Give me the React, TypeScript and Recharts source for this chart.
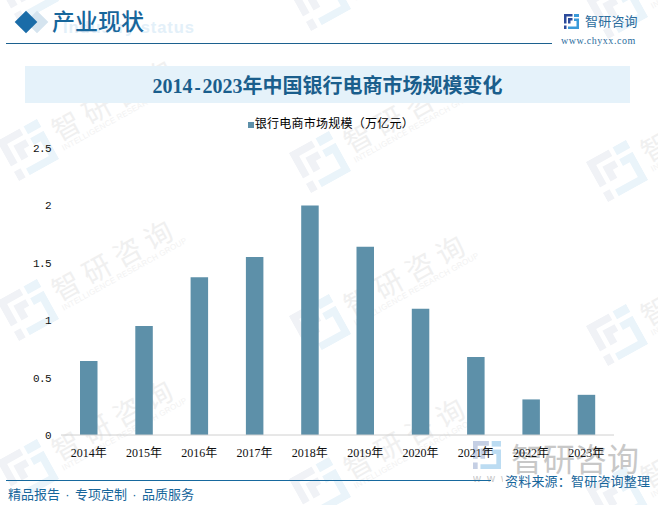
import { Bar, BarChart, Legend, XAxis, YAxis } from "recharts";

const years = ["2014年", "2015年", "2016年", "2017年", "2018年", "2019年", "2020年", "2021年", "2022年", "2023年"];
const marketSize = [0.645, 0.95, 1.375, 1.55, 2.0, 1.64, 1.1, 0.68, 0.31, 0.35];
const yTicks = [0, 0.5, 1, 1.5, 2, 2.5];

const chartData = years.map((year, i) => ({ year, value: marketSize[i] }));

const CJK = '"Liberation Sans", "Noto Sans CJK SC", sans-serif';
const SERIF = '"Liberation Serif", "Noto Sans CJK SC", serif';
const BLUE = "#17669b";

// logo centres of the background watermark tiles
const watermarks = [
  [28, -8], [320, 0], [617, 8],
  [28, 150], [320, 162], [617, 171],
  [28, 310], [320, 325], [617, 335],
  [28, 470], [320, 488], [617, 497],
];

function Logo({ size, dark = "#2b4a9b", light = "#3a9ad9" }: { size: number; dark?: string; light?: string }) {
  return (
    <svg width={size} height={size} viewBox="0 0 30 30" style={{ display: "block" }}>
      <path d="M0 0H17V5H5V19H0Z" fill={dark} />
      <path d="M8 8H17V13H13V19H8Z" fill={dark} />
      <path d="M0 23H5V30H0Z" fill={dark} />
      <path d="M20 0H30V6H20Z" fill={light} />
      <path d="M20 9H30V30H8V25H25V14H20Z" fill={light} />
    </svg>
  );
}

function Watermark({ x, y }: { x: number; y: number }) {
  return (
    <div style={{ position: "absolute", left: x, top: y, width: 0, height: 0, transform: "rotate(-29deg)", whiteSpace: "nowrap" }}>
      <div style={{ position: "absolute", left: -23, top: -23 }}>
        <Logo size={46} dark="#f0f2f6" light="#eaf4fa" />
      </div>
      <div style={{ position: "absolute", left: 31, top: -24, font: `28px "Noto Sans CJK SC"`, lineHeight: "40px", letterSpacing: 7, color: "#f0f0f0" }}>智研咨询</div>
      <div style={{ position: "absolute", left: 31, top: 10, font: `8px "Liberation Sans"`, lineHeight: "11px", letterSpacing: 0.2, color: "#f2f2f2" }}>INTELLIGENCE RESEARCH GROUP</div>
    </div>
  );
}

function Dot() {
  return <span style={{ display: "inline-block", width: 15, textAlign: "center" }}>·</span>;
}

export default function App() {
  return (
    <div style={{ position: "absolute", left: 0, top: 0, width: 658, height: 505, overflow: "hidden", background: "#fff", fontFamily: CJK }}>
      {watermarks.map(([x, y]) => (
        <Watermark key={`${x}-${y}`} x={x} y={y} />
      ))}

      {/* header */}
      <div style={{ position: "absolute", left: 29, top: 14, width: 16, height: 16, background: "#d5e4ef", transform: "rotate(45deg)" }} />
      <div style={{ position: "absolute", left: 18, top: 14, width: 16, height: 16, background: "#1a6ca8", transform: "rotate(45deg)" }} />
      <div style={{ position: "absolute", left: 63, top: 17, font: `bold 16.5px "Liberation Sans"`, letterSpacing: 0.9, lineHeight: "20px", color: "#e3f0f9" }}>Industry status</div>
      <div style={{ position: "absolute", left: 52, top: 6, font: `500 23px ${SERIF}`, color: BLUE, lineHeight: "34px" }}>产业现状</div>
      <div style={{ position: "absolute", left: 6, top: 43, width: 546, height: 1, background: "#1c618f" }} />
      <div style={{ position: "absolute", left: 564, top: 14 }}>
        <Logo size={15} />
      </div>
      <div style={{ position: "absolute", left: 585, top: 11, font: `13px ${CJK}`, letterSpacing: 0.2, color: "#2a6c9d", lineHeight: "22px" }}>智研咨询</div>
      <div style={{ position: "absolute", left: 561, top: 34, font: `10px ${SERIF}`, letterSpacing: 0.55, color: "#2a6c9d", lineHeight: "14px" }}>www.chyxx.com</div>

      {/* title band */}
      <div style={{ position: "absolute", left: 25, top: 66, width: 605, height: 37, background: "#e5f2fa" }} />
      <div style={{ position: "absolute", left: 25, top: 66, width: 605, textAlign: "center", font: `bold 20px ${SERIF}`, lineHeight: "40px", color: "#1a5e8c" }}>
        2014<span style={{ font: 'bold 17px "Liberation Mono"' }}>-</span>2023年中国银行电商市场规模变化
      </div>

      {/* bottom-right watermark */}
      <div style={{ position: "absolute", left: 473, top: 441 }}>
        <Logo size={28} dark="#c5cfe4" light="#bcdcf2" />
      </div>
      <div style={{ position: "absolute", left: 511, top: 436, font: `32px "Noto Sans CJK SC"`, lineHeight: "42px", color: "#c8c8c8", whiteSpace: "nowrap" }}>智研咨询</div>
      <div style={{ position: "absolute", left: 473, top: 471, width: 30, overflow: "hidden", font: `11px ${CJK}`, letterSpacing: 6, lineHeight: "14px", color: "#c8c8c8", whiteSpace: "nowrap" }}>www.chyxx.com</div>

      <div style={{ position: "absolute", left: 0, top: 0 }}>
        <BarChart width={658} height={505} data={chartData} margin={{ top: 131, right: 44, bottom: 40, left: 0 }} barSize={17.5}>
          <Legend
            verticalAlign="top"
            iconType="square"
            iconSize={6}
            wrapperStyle={{ top: 114, left: 7, width: 658, fontSize: 12, fontFamily: CJK, letterSpacing: 0.25 }}
            formatter={(v) => <span style={{ color: "#000", marginLeft: -3 }}>{v}</span>}
          />
          <XAxis
            dataKey="year"
            interval={0}
            tickLine={false}
            axisLine={{ stroke: "#d0d0d0", strokeWidth: 1 }}
            tick={{ fontSize: 12, fill: "#111", fontFamily: SERIF }}
            tickMargin={7}
          />
          <YAxis
            width={61}
            domain={[0, 2.5]}
            ticks={yTicks}
            axisLine={false}
            tickLine={false}
            tick={{ fontSize: 11, fill: "#111", fontFamily: '"Liberation Mono"', letterSpacing: -0.6 }}
            tickMargin={4}
          />
          <Bar dataKey="value" name="银行电商市场规模（万亿元）" fill="#5d90a9" isAnimationActive={false} />
        </BarChart>
      </div>

      {/* footer */}
      <div style={{ position: "absolute", left: 6, top: 480, width: 485, height: 1, background: "#17699e" }} />
      <div style={{ position: "absolute", left: 8, top: 485, font: `13px ${CJK}`, lineHeight: "20px", color: BLUE, whiteSpace: "nowrap" }}>
        精品报告<Dot />专项定制<Dot />品质服务
      </div>
      <div style={{ position: "absolute", left: 505, top: 472, font: `13px ${CJK}`, letterSpacing: 0.2, lineHeight: "20px", color: BLUE, whiteSpace: "nowrap" }}>资料来源：智研咨询整理</div>
    </div>
  );
}
